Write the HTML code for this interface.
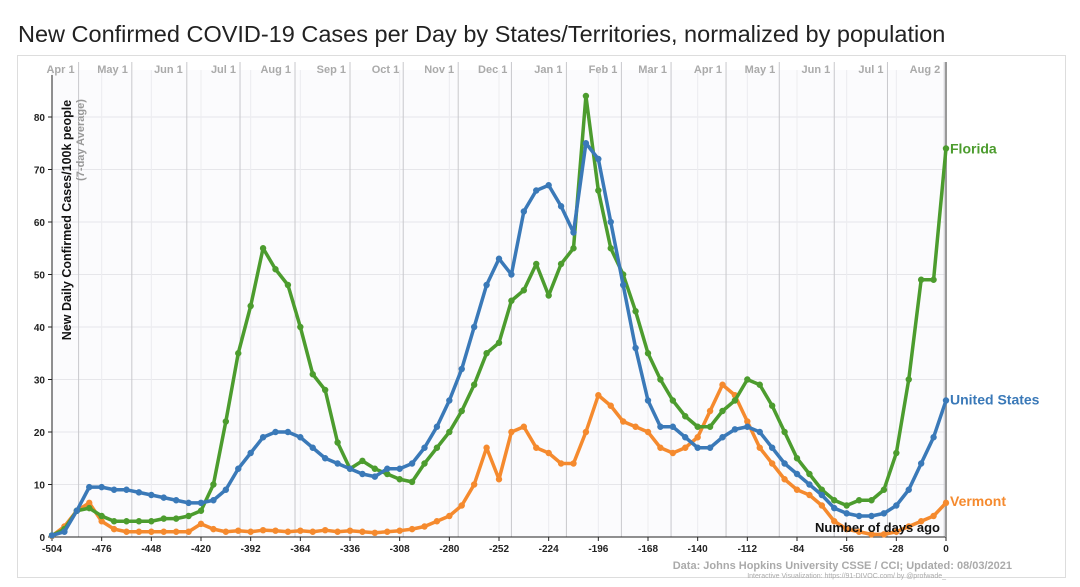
<!DOCTYPE html>
<html><head><meta charset="utf-8"><style>
body{margin:0;background:#fff;width:1080px;height:582px;overflow:hidden;font-family:"Liberation Sans",sans-serif}
</style></head><body>
<svg width="1080" height="582" xmlns="http://www.w3.org/2000/svg">
<text x="18" y="42" font-size="23.5" fill="#222">New Confirmed COVID-19 Cases per Day by States/Territories, normalized by population</text>
<rect x="17.5" y="55.5" width="1048" height="522" fill="#fff" stroke="#ddd"/>
<rect x="52" y="70" width="894" height="467" fill="#fbfbfd"/>
<g id="grid"></g><g id="axes"></g><g id="series"></g>
<text transform="translate(71,220) rotate(-90)" text-anchor="middle" font-size="12.5" font-weight="bold" fill="#111">New Daily Confirmed Cases/100k people</text>
<text transform="translate(84,140) rotate(-90)" text-anchor="middle" font-size="11" font-weight="bold" fill="#999">(7-day Average)</text>
<text x="940" y="532" text-anchor="end" font-size="13" font-weight="bold" fill="#111">Number of days ago</text>
<text x="1012" y="569" text-anchor="end" font-size="11" font-weight="bold" fill="#aaa">Data: Johns Hopkins University CSSE / CCI; Updated: 08/03/2021</text>
<text x="946" y="578" text-anchor="end" font-size="7" fill="#aaa">Interactive Visualization: https://91-DIVOC.com/ by @profwade_</text>
</svg>
<script>
const days=[-504,-497,-490,-483,-476,-469,-462,-455,-448,-441,-434,-427,-420,-413,-406,-399,-392,-385,-378,-371,-364,-357,-350,-343,-336,-329,-322,-315,-308,-301,-294,-287,-280,-273,-266,-259,-252,-245,-238,-231,-224,-217,-210,-203,-196,-189,-182,-175,-168,-161,-154,-147,-140,-133,-126,-119,-112,-105,-98,-91,-84,-77,-70,-63,-56,-49,-42,-35,-28,-21,-14,-7,0];
const usVals=[0.3,1,5,9.5,9.5,9,9,8.5,8,7.5,7,6.5,6.5,7,9,13,16,19,20,20,19,17,15,14,13,12,11.5,13,13,14,17,21,26,32,40,48,53,50,62,66,67,63,58,75,72,60,48,36,26,21,21,19,17,17,19,20.5,21,20,17,14,12,10,8,5.5,4.5,4,4,4.5,6,9,14,19,26];
const flVals=[0.3,1.5,5,5.5,4,3,3,3,3,3.5,3.5,4,5,10,22,35,44,55,51,48,40,31,28,18,13,14.5,13,12,11,10.5,14,17,20,24,29,35,37,45,47,52,46,52,55,84,66,55,50,43,35,30,26,23,21,21,24,26,30,29,25,20,15,12,9,7,6,7,7,9,16,30,49,49,74];
const vtVals=[0.2,2,5,6.5,3,1.5,1,1,1,1,1,1,2.5,1.5,1,1.2,1,1.3,1.2,1,1.2,1,1.3,1,1.2,1,0.8,1,1.2,1.5,2,3,4,6,10,17,11,20,21,17,16,14,14,20,27,25,22,21,20,17,16,17,19,24,29,27,22,17,14,11,9,8,6,3,1.5,1,0.5,0.5,1,2,3,4,6.5];
const yTicks=[0,10,20,30,40,50,60,70,80];
const xTicks=[-504,-476,-448,-420,-392,-364,-336,-308,-280,-252,-224,-196,-168,-140,-112,-84,-56,-28,0];
const monthLabels=["Apr 1","May 1","Jun 1","Jul 1","Aug 1","Sep 1","Oct 1","Nov 1","Dec 1","Jan 1","Feb 1","Mar 1","Apr 1","May 1","Jun 1","Jul 1","Aug 2"];
const monthDays=[-489,-459,-428,-398,-367,-336,-306,-275,-245,-214,-183,-155,-124,-94,-63,-33,-1];
const NS="http://www.w3.org/2000/svg";
const X=d=>52+(d+504)*(894/504), Y=v=>537-v*5.25;
function mk(p,t,a){const e=document.createElementNS(NS,t);for(const k in a)e.setAttribute(k,a[k]);p.appendChild(e);return e;}
const g=document.getElementById('grid'),ax=document.getElementById('axes'),s=document.getElementById('series');
yTicks.forEach(v=>{const l=mk(g,'line',{x1:52,x2:946,y1:Y(v),y2:Y(v),stroke:'#e6e6ea'});


const t=mk(ax,'text',{x:45,y:Y(v)+4,'text-anchor':'end','font-size':10,'font-weight':'bold',fill:'#222'});t.textContent=v;


mk(ax,'line',{x1:48,x2:52,y1:Y(v),y2:Y(v),stroke:'#222'});});
xTicks.forEach(d=>{const l=mk(g,'line',{x1:X(d),x2:X(d),y1:70,y2:537,stroke:'#ececf0'});


const t=mk(ax,'text',{x:X(d),y:552,'text-anchor':'middle','font-size':10,'font-weight':'bold',fill:'#222'});t.textContent=d;


mk(ax,'line',{x1:X(d),x2:X(d),y1:537,y2:541,stroke:'#222'});});
monthDays.forEach((d,i)=>{const l=mk(g,'line',{x1:X(d),x2:X(d),y1:62,y2:537,stroke:'#c8c8cc'});


const t=mk(ax,'text',{x:X(d)-4,y:73,'text-anchor':'end','font-size':11,'font-weight':'bold',fill:'#aaa'});t.textContent=monthLabels[i];

});
mk(ax,'line',{x1:52,x2:946,y1:537,y2:537,stroke:'#222'});
mk(ax,'line',{x1:52,x2:52,y1:75,y2:537,stroke:'#222'});
mk(ax,'line',{x1:946,x2:946,y1:62,y2:537,stroke:'#999','stroke-width':2});
function series(vals,col,name,label,ly){
const pts=days.map((d,i)=>X(d)+','+Y(vals[i])).join(' ');
const pl=mk(s,'polyline',{points:pts,fill:'none',stroke:col,'stroke-width':3.5,'stroke-linejoin':'round'});


days.forEach((d,i)=>{const c=mk(s,'circle',{cx:X(d),cy:Y(vals[i]),r:3.2,fill:col});

});
const t=mk(s,'text',{x:950,y:ly,'font-size':14,'font-weight':'bold',fill:col});t.textContent=label;

}
series(vtVals,'#f58a2e','vermont','Vermont',Y(vtVals[vtVals.length-1])+3);
series(flVals,'#4c9c2e','florida','Florida',Y(flVals[flVals.length-1])+5);
series(usVals,'#3a79b8','united-states','United States',Y(usVals[usVals.length-1])+4);
</script>
</body></html>
